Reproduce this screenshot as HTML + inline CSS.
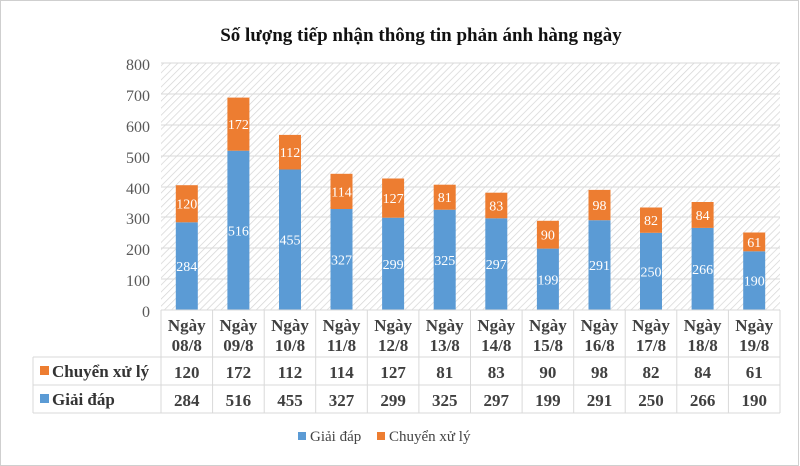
<!DOCTYPE html>
<html><head><meta charset="utf-8"><style>
body{margin:0;background:#fff}
svg{display:block}
text{font-family:"Liberation Serif",serif}
</style></head><body>
<svg width="800" height="466" xmlns="http://www.w3.org/2000/svg">
<defs>
<pattern id="h" width="5" height="5" patternUnits="userSpaceOnUse" patternTransform="rotate(45)">
<rect width="5" height="5" fill="#fff"/><line x1="0" y1="0" x2="0" y2="5" stroke="#d4d4d4" stroke-width="1.4"/>
</pattern>
</defs>
<rect x="0.5" y="0.5" width="798" height="465" fill="#fff" stroke="#cfcfcf"/>
<text x="421" y="41" font-size="19" font-weight="bold" text-anchor="middle" fill="#111">Số lượng tiếp nhận thông tin phản ánh hàng ngày</text>
<rect x="161" y="63" width="619" height="247" fill="url(#h)"/>
<g stroke="#d9d9d9" stroke-width="1">
<line x1="161" x2="780" y1="63" y2="63"/><line x1="161" x2="780" y1="94" y2="94"/><line x1="161" x2="780" y1="125" y2="125"/><line x1="161" x2="780" y1="156" y2="156"/><line x1="161" x2="780" y1="187" y2="187"/><line x1="161" x2="780" y1="217" y2="217"/><line x1="161" x2="780" y1="248" y2="248"/><line x1="161" x2="780" y1="279" y2="279"/>
</g>
<g font-size="16" fill="#595959" text-anchor="end">
<text x="150" y="70">800</text><text x="150" y="101">700</text><text x="150" y="132">600</text><text x="150" y="163">500</text><text x="150" y="194">400</text><text x="150" y="224">300</text><text x="150" y="255">200</text><text x="150" y="286">100</text><text x="150" y="317">0</text>
</g>
<g fill="#5b9bd5">
<rect x="175.8" y="222.3" width="22" height="87.7"/>
<rect x="227.4" y="150.7" width="22" height="159.3"/>
<rect x="279.0" y="169.5" width="22" height="140.5"/>
<rect x="330.5" y="209.0" width="22" height="101.0"/>
<rect x="382.1" y="217.7" width="22" height="92.3"/>
<rect x="433.7" y="209.7" width="22" height="100.3"/>
<rect x="485.3" y="218.3" width="22" height="91.7"/>
<rect x="536.9" y="248.6" width="22" height="61.4"/>
<rect x="588.5" y="220.2" width="22" height="89.8"/>
<rect x="640.0" y="232.8" width="22" height="77.2"/>
<rect x="691.6" y="227.9" width="22" height="82.1"/>
<rect x="743.2" y="251.3" width="22" height="58.7"/>
</g>
<g fill="#ed7d31">
<rect x="175.8" y="185.2" width="22" height="37.1"/>
<rect x="227.4" y="97.6" width="22" height="53.1"/>
<rect x="279.0" y="134.9" width="22" height="34.6"/>
<rect x="330.5" y="173.8" width="22" height="35.2"/>
<rect x="382.1" y="178.5" width="22" height="39.2"/>
<rect x="433.7" y="184.7" width="22" height="25.0"/>
<rect x="485.3" y="192.7" width="22" height="25.6"/>
<rect x="536.9" y="220.8" width="22" height="27.8"/>
<rect x="588.5" y="189.9" width="22" height="30.3"/>
<rect x="640.0" y="207.5" width="22" height="25.3"/>
<rect x="691.6" y="202.0" width="22" height="25.9"/>
<rect x="743.2" y="232.5" width="22" height="18.8"/>
</g>
<g font-size="14" fill="#fff" text-anchor="middle">
<text x="186.8" y="271.2">284</text><text x="238.4" y="235.3">516</text><text x="290.0" y="244.7">455</text><text x="341.5" y="264.5">327</text><text x="393.1" y="268.9">299</text><text x="444.7" y="264.9">325</text><text x="496.3" y="269.2">297</text><text x="547.9" y="284.3">199</text><text x="599.5" y="270.1">291</text><text x="651.0" y="276.4">250</text><text x="702.6" y="273.9">266</text><text x="754.2" y="285.6">190</text>
<text x="186.8" y="208.7">120</text><text x="238.4" y="129.2">172</text><text x="290.0" y="157.2">112</text><text x="341.5" y="196.4">114</text><text x="393.1" y="203.1">127</text><text x="444.7" y="202.2">81</text><text x="496.3" y="210.5">83</text><text x="547.9" y="239.7">90</text><text x="599.5" y="210.1">98</text><text x="651.0" y="225.2">82</text><text x="702.6" y="220">84</text><text x="754.2" y="246.9">61</text>
</g>
<g stroke="#d9d9d9" stroke-width="1" fill="none">
<line x1="161" x2="780" y1="310" y2="310"/>
<line x1="33" x2="780" y1="357" y2="357"/><line x1="33" x2="780" y1="385" y2="385"/><line x1="33" x2="780" y1="413" y2="413"/>
<line x1="33" x2="33" y1="357" y2="413"/>
<line x1="161" x2="161" y1="310" y2="413"/><line x1="212.6" x2="212.6" y1="310" y2="413"/><line x1="264.2" x2="264.2" y1="310" y2="413"/><line x1="315.7" x2="315.7" y1="310" y2="413"/><line x1="367.3" x2="367.3" y1="310" y2="413"/><line x1="418.9" x2="418.9" y1="310" y2="413"/><line x1="470.5" x2="470.5" y1="310" y2="413"/><line x1="522.1" x2="522.1" y1="310" y2="413"/><line x1="573.7" x2="573.7" y1="310" y2="413"/><line x1="625.2" x2="625.2" y1="310" y2="413"/><line x1="676.8" x2="676.8" y1="310" y2="413"/><line x1="728.4" x2="728.4" y1="310" y2="413"/><line x1="780" x2="780" y1="310" y2="413"/>
</g>
<g font-size="17" font-weight="bold" fill="#404040" text-anchor="middle">
<text x="186.8" y="331">Ngày</text><text x="238.4" y="331">Ngày</text><text x="290.0" y="331">Ngày</text><text x="341.5" y="331">Ngày</text><text x="393.1" y="331">Ngày</text><text x="444.7" y="331">Ngày</text><text x="496.3" y="331">Ngày</text><text x="547.9" y="331">Ngày</text><text x="599.5" y="331">Ngày</text><text x="651.0" y="331">Ngày</text><text x="702.6" y="331">Ngày</text><text x="754.2" y="331">Ngày</text>
<text x="186.8" y="351">08/8</text><text x="238.4" y="351">09/8</text><text x="290.0" y="351">10/8</text><text x="341.5" y="351">11/8</text><text x="393.1" y="351">12/8</text><text x="444.7" y="351">13/8</text><text x="496.3" y="351">14/8</text><text x="547.9" y="351">15/8</text><text x="599.5" y="351">16/8</text><text x="651.0" y="351">17/8</text><text x="702.6" y="351">18/8</text><text x="754.2" y="351">19/8</text>
<text x="186.8" y="378">120</text><text x="238.4" y="378">172</text><text x="290.0" y="378">112</text><text x="341.5" y="378">114</text><text x="393.1" y="378">127</text><text x="444.7" y="378">81</text><text x="496.3" y="378">83</text><text x="547.9" y="378">90</text><text x="599.5" y="378">98</text><text x="651.0" y="378">82</text><text x="702.6" y="378">84</text><text x="754.2" y="378">61</text>
<text x="186.8" y="406">284</text><text x="238.4" y="406">516</text><text x="290.0" y="406">455</text><text x="341.5" y="406">327</text><text x="393.1" y="406">299</text><text x="444.7" y="406">325</text><text x="496.3" y="406">297</text><text x="547.9" y="406">199</text><text x="599.5" y="406">291</text><text x="651.0" y="406">250</text><text x="702.6" y="406">266</text><text x="754.2" y="406">190</text>
</g>
<rect x="40" y="366" width="9" height="9" fill="#ed7d31"/>
<text x="52" y="377" font-size="17" font-weight="bold" fill="#333">Chuyển xử lý</text>
<rect x="40" y="394" width="9" height="9" fill="#5b9bd5"/>
<text x="52" y="405" font-size="17" font-weight="bold" fill="#333">Giải đáp</text>
<rect x="298" y="432" width="8" height="8" fill="#5b9bd5"/>
<text x="310" y="441" font-size="15" fill="#444">Giải đáp</text>
<rect x="377" y="432" width="8" height="8" fill="#ed7d31"/>
<text x="389" y="441" font-size="15" fill="#444">Chuyển xử lý</text>
</svg>
</body></html>
